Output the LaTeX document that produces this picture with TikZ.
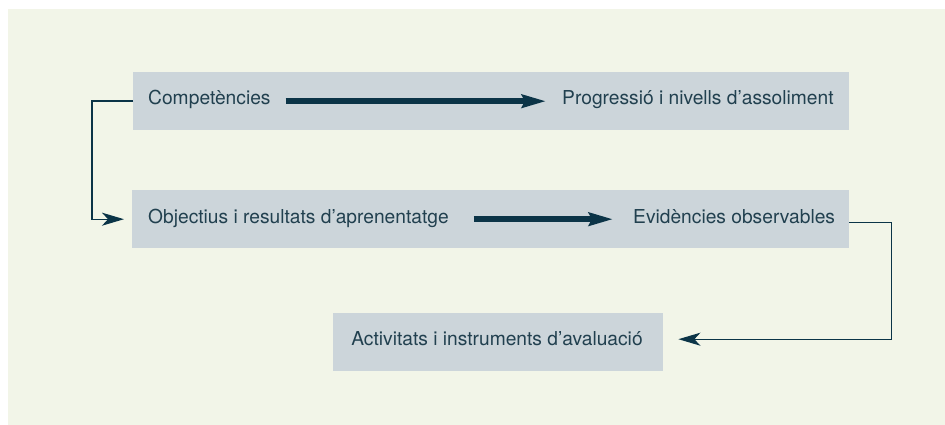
\documentclass[tikz,border=0pt]{standalone}
\usepackage{fontspec}
\setmainfont{TeX Gyre Heros}
\usetikzlibrary{arrows.meta}
\definecolor{bggreen}{HTML}{F2F5E8}
\definecolor{boxgray}{HTML}{CCD5DA}
\definecolor{txtblue}{HTML}{21404F}
\definecolor{arrowblue}{HTML}{0B3447}

\begin{document}
\begin{tikzpicture}[x=1pt,y=-1pt,
    box/.style={fill=boxgray,inner sep=0pt,anchor=north west,minimum height=58pt},
    label/.style={text=txtblue,inner sep=0pt,font=\fontsize{19.2}{23}\selectfont},
    bigarrow/.style={draw=arrowblue,line width=6pt,-{Stealth[length=24pt,width=13pt,inset=3pt]}},
    thinarrow/.style={draw=arrowblue,line width=1.4pt,-{Stealth[length=22pt,width=13pt,inset=6pt]}}]
            \useasboundingbox (0,0) rectangle (945,425);
            \fill[bggreen] (8,9) rectangle (945,425);

            \node[box,minimum width=716pt] (row1) at (133,72) {};
            \node[box,minimum width=717pt] (row2) at (132,190) {};
            \node[box,minimum width=330pt] (row3) at (333,313) {};

            \node[label,anchor=base west] (comp) at (148,105) {Competències};
            \node[label,anchor=base west] (prog) at (562,105) {Progressió i nivells d’assoliment};
            \node[label,anchor=base west] (obj) at (148,223) {Objectius i resultats d’aprenentatge};
            \node[label,anchor=base west] (evid) at (633,223) {Evidències observables};
            \node[label,anchor=base] (act) at (497,345) {Activitats i instruments d’avaluació};

            \draw[bigarrow,shorten <=15pt,shorten >=16pt] (comp.east |- row1.center) -- (prog.west |- row1.center);
            \draw[bigarrow,shorten <=25pt,shorten >=20pt] (obj.east |- row2.center) -- (evid.west |- row2.center);

            \draw[thinarrow,shorten >=8pt] (row1.west) -- ++(-41,0) |- (row2.west);
            \draw[thinarrow,shorten >=15pt] ([yshift=-3pt]row2.east) -- ++(42,0) |- ([yshift=3pt]row3.east);
\end{tikzpicture}
\end{document}
